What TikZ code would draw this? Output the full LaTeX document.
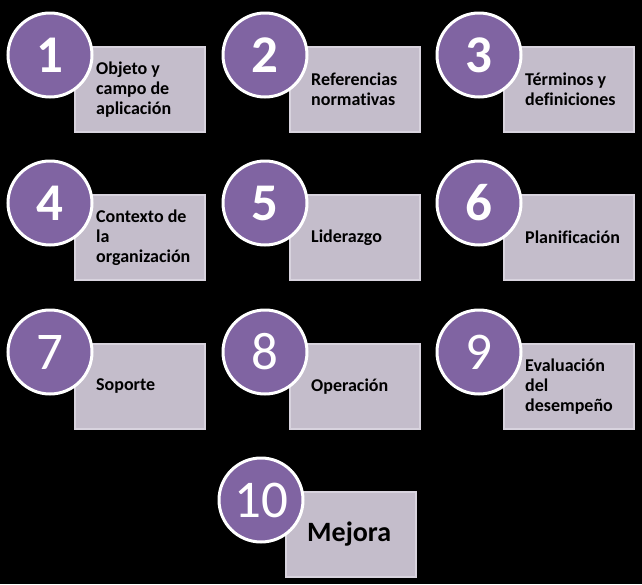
\documentclass[tikz,border=0pt]{standalone}
\usepackage{fontspec}
\setmainfont{Carlito}[Ligatures=NoCommon]
\usetikzlibrary{positioning}
\definecolor{numpurple}{RGB}{128,100,162}
\definecolor{boxfill}{RGB}{196,189,203}
\definecolor{boxline}{RGB}{216,211,222}

\begin{document}
\begin{tikzpicture}[x=1pt,y=-1pt,
    itembox/.style={draw=boxline, fill=boxfill, line width=1.5pt,
      minimum width=130pt, minimum height=85pt, anchor=north west, inner sep=0pt},
    numcircle/.style={circle, draw=white, fill=numpurple, line width=3pt,
      minimum size=84pt, inner sep=0pt, text=white,
      font=\fontsize{53}{53}\selectfont},
    itemtext/.style={anchor=west, align=left, inner sep=0pt,
      font=\bfseries\fontsize{18}{20}\selectfont}]
    \fill[black] (0,0) rectangle (642,584);

    \foreach \i/\x/\y/\txt in {1/74/46/{Objeto y\\campo de\\aplicación},
        2/289/46/{Referencias\\normativas},
        3/503/46/{Términos y\\definiciones},
        4/74/194/{Contexto de\\la\\organización},
        5/289/194/{Liderazgo},
        6/503/194/{Planificación},
        7/74/343/{Soporte},
        8/289/343/{Operación},
        9/503/343/{Evaluación\\del\\desempeño}} {
      \node[itembox] (b\i) at (\x,\y) {};
      \node[itemtext] (t\i) at ([xshift=22pt]b\i.west) {\txt};
      \node[numcircle] (c\i) at (\x-24,\y+9) {\ifnum\i<7\bfseries\fi\i};
    }

    \node[itembox] (b10) at (285,491) {};
    \node[itemtext, font=\bfseries\fontsize{28}{32}\selectfont] (t10)
      at ([xshift=22pt]b10.west) {Mejora};
    \node[numcircle] (c10) at (261,500) {10};
  \end{tikzpicture}
\end{document}
